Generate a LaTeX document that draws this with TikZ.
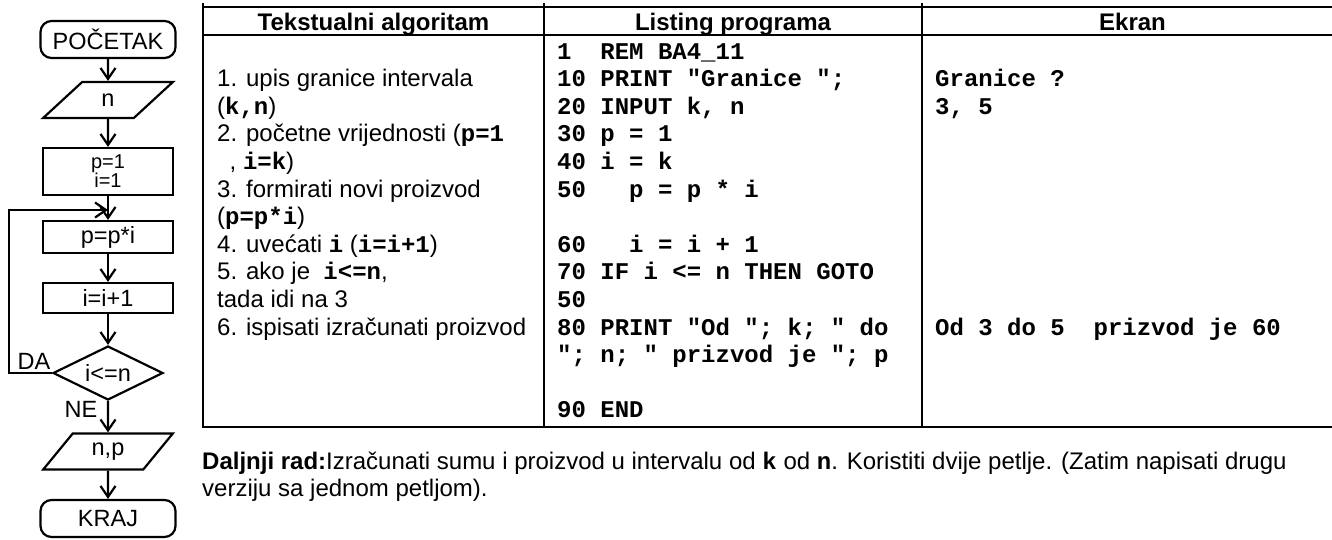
\documentclass[tikz,border=0pt]{standalone}
\usepackage{fontspec}
\setmainfont{Liberation Sans}
\setmonofont{Liberation Mono}
\usetikzlibrary{arrows.meta,shapes.geometric}
% inline BASIC code in bold monospace
\newcommand\cd[1]{{\ttfamily\bfseries #1}}
\begin{document}
\begin{tikzpicture}[x=1pt,y=-1pt,
  fline/.style={line width=2.2pt},
  arr/.style={fline,-{Straight Barb[length=11pt,width=15pt,line width=2.2pt]}},
  fcfont/.style={font=\fontsize{23.5}{25}\selectfont},
  term/.style={draw,fline,fcfont,rounded corners=11pt,minimum width=135pt,minimum height=37pt,inner sep=0pt},
  io/.style={draw,fline,fcfont,trapezium,trapezium left angle=52,trapezium right angle=128,
             trapezium stretches=true,minimum width=130pt,minimum height=36pt,inner sep=0pt},
  proc/.style={draw,fline,fcfont,rectangle,minimum width=130pt,inner sep=0pt},
  dec/.style={draw,fline,fcfont,diamond,aspect=2,minimum width=110pt,minimum height=54pt,inner sep=0pt},
  lbl/.style={fcfont,inner sep=0pt},
  small/.style={anchor=base,inner sep=0pt,font=\fontsize{20}{20}\selectfont},
  tbl/.style={line width=1.9pt},
  hd/.style={anchor=base,inner sep=0pt,font=\fontsize{24}{28}\selectfont\bfseries},
  ln/.style={anchor=base west,inner sep=0pt,font=\fontsize{24}{28}\selectfont},
  cl/.style={ln,font=\fontsize{24}{28}\selectfont\ttfamily\bfseries}
]
\useasboundingbox (0,0) rectangle (1332,539);

% ---------------- flowchart ----------------
\node[term] (start) at (108,39.5) {POČETAK};
\node[io]   (in)    at (108,100)  {n};
\node[proc,minimum height=47pt] (init) at (108,171.5) {};
\node[small] (init1) at (108,168.3) {p=1};
\node[small] (init2) at (108,187.3) {i=1};
\node[proc,minimum height=32pt] (prod) at (108,237) {p=p*i};
\node[proc,minimum height=30pt] (inc)  at (108,298) {i=i+1};
\node[dec]  (test)  at (108,373)  {i<=n};
\node[io]   (out)   at (108,451.5){n,p};
\node[term] (stop)  at (108,518.5){KRAJ};
\coordinate (loop) at (108,210);

\draw[arr] (start) -- (in);
\draw[arr] (in) -- (init);
\draw[arr] (init) -- (prod);
\draw[arr] (prod) -- (inc);
\draw[arr] (inc) -- (test);
\draw[arr] (test) -- (out);
\draw[arr] (out) -- (stop);
\draw[arr] (test.west) -- ++(-43,0) |- (loop);

\node[lbl] (da) at (34,361) {DA};
\node[lbl] (ne) at (81,409) {NE};

% ---------------- table ----------------
\draw[tbl] (1333,7) -- (203,7);
\draw[tbl] (203,3) -- (203,427) -- (1333,427);
\draw[tbl] (203,34.7) -- (1333,34.7);
\draw[tbl] (544,3) -- (544,427);
\draw[tbl] (922,3) -- (922,427);

\node[hd] (h1) at (373.5,30) {Tekstualni algoritam};
\node[hd] (h2) at (733,30)   {Listing programa};
\node[hd] (h3) at (1132.5,30){Ekran};

% algorithm steps
\node[ln] (a1)  at (217,86.6)    {1. upis granice intervala};
\node[ln] (a2)  at (217,114.2)   {(\cd{k,n})};
\node[ln] (a3)  at (217,141.8)   {2. početne vrijednosti (\cd{p=1}};
\node[ln] (a4)  at (229.5,169.4) {, \cd{i=k})};
\node[ln] (a5)  at (217,197)     {3. formirati novi proizvod};
\node[ln] (a6)  at (217,224.6)   {(\cd{p=p*i})};
\node[ln] (a7)  at (217,252.2)   {4. uvećati \cd{i} (\cd{i=i+1})};
\node[ln] (a8)  at (217,279.8)   {5. ako je~ \cd{i<=n},};
\node[ln] (a9)  at (217,307.4)   {tada idi na 3};
\node[ln] (a10) at (217,335)     {6. ispisati izračunati proizvod};

% program listing
\node[cl] (c0)  at (557,59)    {1~~REM BA4\_11};
\node[cl] (c1)  at (557,86.6)  {10 PRINT "Granice ";};
\node[cl] (c2)  at (557,114.2) {20 INPUT k, n};
\node[cl] (c3)  at (557,141.8) {30 p = 1};
\node[cl] (c4)  at (557,169.4) {40 i = k};
\node[cl] (c5)  at (557,197)   {50~~~p = p * i};
\node[cl] (c7)  at (557,252.2) {60~~~i = i + 1};
\node[cl] (c8)  at (557,279.8) {70 IF i <= n THEN GOTO};
\node[cl] (c9)  at (557,307.4) {50};
\node[cl] (c10) at (557,335)   {80 PRINT "Od "; k; " do};
\node[cl] (c11) at (557,362.6) {"; n; " prizvod je "; p};
\node[cl] (c13) at (557,417.8) {90 END};

% screen output
\node[cl] (e1)  at (935,86.6)  {Granice ?};
\node[cl] (e2)  at (935,114.2) {3, 5};
\node[cl] (e10) at (935,335)   {Od 3 do 5~~prizvod je 60};

% further work
\node[ln] (t1) at (202,469) {\textbf{Daljnji rad:}Izračunati sumu i proizvod u intervalu od \cd{k} od \cd{n}. Koristiti dvije petlje. (Zatim napisati drugu};
\node[ln] (t2) at (202,496) {verziju sa jednom petljom).};
\end{tikzpicture}
\end{document}
